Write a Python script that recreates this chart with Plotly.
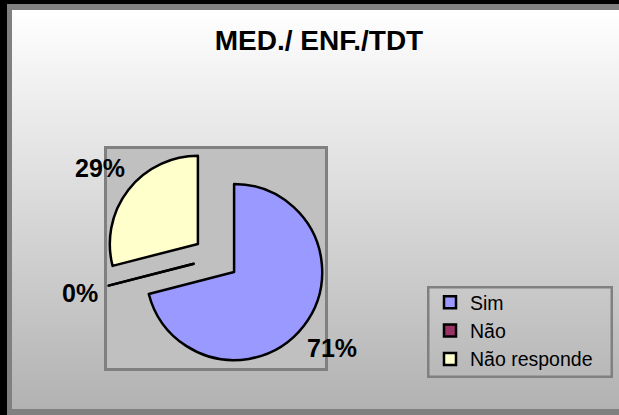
import base64
import math
import plotly.graph_objects as go

# ---- data ----
categories = ["Sim", "Não", "Não responde"]
values = [71, 0, 29]
colors = ["#9999ff", "#993366", "#ffffcc"]
pulls = [0.26, 0.26, 0.26]
title_text = "MED./ ENF./TDT"

W, H = 619, 415


def px(x):
    return x / W


def py(y):
    return 1 - y / H


def svg_uri(svg):
    return "data:image/svg+xml;base64," + base64.b64encode(svg.encode()).decode()


def box_image(x0, y0, x1, y1, fill, stroke, sw):
    bw, bh = x1 - x0, y1 - y0
    svg = (
        f'<svg xmlns="http://www.w3.org/2000/svg" width="{bw}" height="{bh}" '
        f'viewBox="0 0 {bw} {bh}" preserveAspectRatio="none">'
        f'<rect x="{sw / 2}" y="{sw / 2}" width="{bw - sw}" height="{bh - sw}" fill="{fill}" '
        f'stroke="{stroke}" stroke-width="{sw}"/></svg>'
    )
    return dict(source=svg_uri(svg), xref="paper", yref="paper",
                x=px(x0), y=py(y0), sizex=px(x1) - px(x0), sizey=py(y0) - py(y1),
                xanchor="left", yanchor="top", sizing="stretch", layer="below")


# pie domain in pixels (plot-area box)
DOM_X0, DOM_X1 = 105, 327
DOM_Y0, DOM_Y1 = 147, 369

fig = go.Figure()
fig.add_trace(go.Pie(
    labels=categories,
    values=values,
    marker=dict(colors=colors, line=dict(color="#000000", width=2.5)),
    pull=pulls,
    sort=False,
    direction="clockwise",
    rotation=0,
    textinfo="none",
    hoverinfo="label+percent",
    domain=dict(x=[px(DOM_X0), px(DOM_X1)], y=[py(DOM_Y1), py(DOM_Y0)]),
    showlegend=True,
))

# ---- geometry (mirrors plotly's pie layout) to place labels ----
cx = (DOM_X0 + DOM_X1) / 2
cy = (DOM_Y0 + DOM_Y1) / 2
maxpull = max(pulls)
R = min(DOM_X1 - DOM_X0, DOM_Y1 - DOM_Y0) / 2 / (1 + maxpull)
total = sum(values)

annotations = []
shapes = []
LABEL_FONT = 25
GAP = 12
cum = 0.0
for cat, v, p in zip(categories, values, pulls):
    frac = v / total
    a0 = cum * 2 * math.pi
    a1 = (cum + frac) * 2 * math.pi
    cum += frac
    mid = (a0 + a1) / 2
    dx, dy = math.sin(mid), -math.cos(mid)  # screen direction (y down)
    pct = f"{round(frac * 100)}%"
    tw = len(pct) * 0.62 * LABEL_FONT
    th = 0.72 * LABEL_FONT
    proj = abs(dx) * tw / 2 + abs(dy) * th / 2
    dist = R * (1 + p) + GAP + proj
    lx, ly = cx + dx * dist, cy + dy * dist
    annotations.append(dict(
        x=px(lx), y=py(ly), xref="paper", yref="paper",
        text=f"<b>{pct}</b>", showarrow=False,
        font=dict(family="Liberation Sans, Arial", size=LABEL_FONT, color="#000000"),
        xanchor="center", yanchor="middle",
    ))
    if v == 0:
        # zero-size slice is drawn as a single radius line
        ox, oy = cx + dx * R * p, cy + dy * R * p
        ex, ey = ox + dx * R, oy + dy * R
        shapes.append(dict(type="line", xref="paper", yref="paper",
                           x0=px(ox), y0=py(oy), x1=px(ex), y1=py(ey),
                           line=dict(color="#000000", width=2.5), layer="above"))

# ---- background frame ----
FRAME_X0, FRAME_Y0 = 7, 4
INNER_X0, INNER_X1, INNER_Y0, INNER_Y1 = 12, 630, 10, 409
IW, IH = INNER_X1 - INNER_X0, INNER_Y1 - INNER_Y0

grad_svg = (
    f'<svg xmlns="http://www.w3.org/2000/svg" width="{IW}" height="{IH}" '
    f'viewBox="0 0 {IW} {IH}" preserveAspectRatio="none">'
    '<defs><linearGradient id="g" x1="0" y1="0" x2="0" y2="1">'
    '<stop offset="0" stop-color="#ffffff"/><stop offset="1" stop-color="#b2b2b2"/>'
    f'</linearGradient></defs><rect width="{IW}" height="{IH}" fill="url(#g)"/></svg>'
)

bg_shapes = [
    dict(type="rect", xref="paper", yref="paper", layer="below",
         x0=0, x1=px(FRAME_X0), y0=0, y1=1, fillcolor="#000000", line=dict(width=0)),
    dict(type="rect", xref="paper", yref="paper", layer="below",
         x0=0, x1=1, y0=py(FRAME_Y0), y1=1, fillcolor="#000000", line=dict(width=0)),
]

fig.update_layout(
    width=W, height=H,
    margin=dict(l=0, r=0, t=0, b=0),
    paper_bgcolor="#808080",
    plot_bgcolor="rgba(0,0,0,0)",
    images=[
        dict(source=svg_uri(grad_svg), xref="paper", yref="paper",
             x=px(INNER_X0), y=py(INNER_Y0), sizex=px(INNER_X1) - px(INNER_X0),
             sizey=py(INNER_Y0) - py(INNER_Y1), xanchor="left", yanchor="top",
             sizing="stretch", layer="below"),
        box_image(104, 146, 328, 371, "#c0c0c0", "#808080", 3),
        box_image(427, 286, 613, 378, "rgba(0,0,0,0)", "#808080", 2.5),
    ],
    shapes=bg_shapes + shapes,
    annotations=annotations,
    title=dict(text=f"<b>{title_text}</b>", x=px(319), y=py(40),
               xref="paper", yref="paper", xanchor="center", yanchor="middle",
               font=dict(family="Liberation Sans, Arial", size=28, color="#000000")),
    legend=dict(x=px(430), y=py(283), xanchor="left", yanchor="top",
                bgcolor="rgba(0,0,0,0)", borderwidth=0,
                font=dict(family="Liberation Sans, Arial", size=19.5, color="#000000"),
                traceorder="normal"),
)

fig.write_html(
    "out.html",
    config={"displayModeBar": False},
    post_script="document.body.style.margin='0';document.body.style.padding='0';"
                "document.documentElement.style.overflow='hidden';",
)
